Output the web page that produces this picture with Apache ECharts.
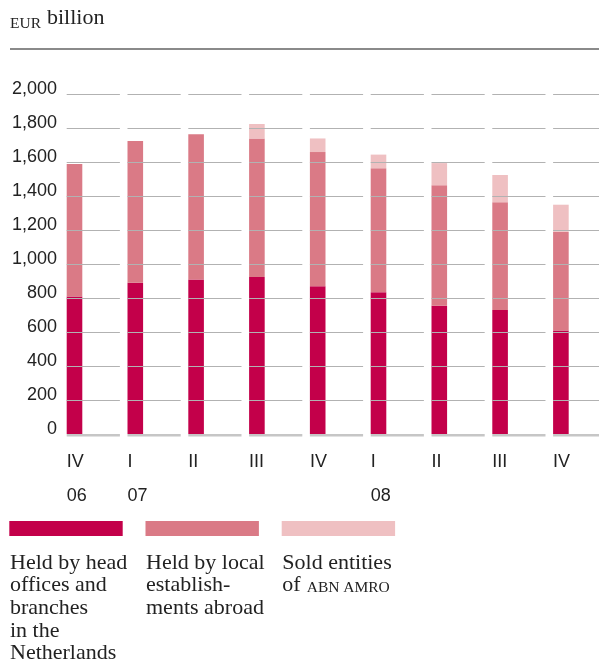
<!DOCTYPE html>
<html>
<head>
<meta charset="utf-8">
<script src="https://cdn.jsdelivr.net/npm/echarts@6/dist/echarts.min.js"></script>
<style>
  html, body { margin: 0; padding: 0; background: #fff; }
  #chart { width: 599px; height: 662px; }
</style>
</head>
<body>
<div id="chart"></div>
<script>
// Quarters along the x axis, with the year shown under the first quarter of each year
const quarters = ['IV', 'I', 'II', 'III', 'IV', 'I', 'II', 'III', 'IV'];
const years = ['06', '07', '', '', '', '08', '', '', ''];

// EUR billion
const headOffices = [810, 890, 910, 925, 870, 835, 755, 730, 610];
const localAbroad = [780, 835, 855, 815, 790, 730, 710, 635, 580];
const soldEntities = [0, 0, 0, 85, 80, 80, 130, 160, 160];

// Value axis ticks
const yTicks = [0, 200, 400, 600, 800, 1000, 1200, 1400, 1600, 1800, 2000];

const COLORS = { head: '#c3004a', local: '#da7a86', sold: '#efc0c2' };
const SERIF = '"Liberation Serif", "DejaVu Serif", serif';
const SANS = '"Liberation Sans", Arial, sans-serif';
const BAR_W = 15.6;

// Each quarter occupies one unit on the x axis, [i, i + 1]; the last slot runs off the right edge
const X_MAX = 8.755;

// Build [slot, bottom, top] rows for each stacked segment
function stackRows(lower, values) {
  return values.map((v, i) => [i, lower[i], lower[i] + v]);
}
const zeros = quarters.map(() => 0);
const afterHead = headOffices.slice();
const afterLocal = headOffices.map((v, i) => v + localAbroad[i]);

// Bars sit at the left edge of each quarter's slot
function segmentRenderer(color) {
  return function (params, api) {
    const i = api.value(0), lo = api.value(1), hi = api.value(2);
    if (!(hi > lo)) return null;
    const p0 = api.coord([i, lo]);
    const p1 = api.coord([i, hi]);
    return {
      type: 'rect',
      shape: { x: p0[0], y: p1[1], width: BAR_W, height: p0[1] - p1[1] },
      style: { fill: color }
    };
  };
}

// Short gridline segments per quarter, drawn over the bars
function gridRenderer(params, api) {
  const i = api.value(0);
  const unit = api.size([1, 0])[0];
  const x0 = api.coord([i, 0])[0];
  const len = unit * 0.875;
  const children = yTicks.map(t => {
    const y = api.coord([i, t])[1];
    if (t === 0) {
      return {
        type: 'line',
        shape: { x1: x0, y1: y + 1.3, x2: x0 + len, y2: y + 1.3 },
        style: { stroke: '#c6c6c6', lineWidth: 2.6 }
      };
    }
    const yy = Math.round(y) + 0.5;
    return {
      type: 'line',
      shape: { x1: x0, y1: yy, x2: x0 + len, y2: yy },
      style: { stroke: '#b2b2b2', lineWidth: 1 }
    };
  });
  return { type: 'group', children };
}

const chart = echarts.init(document.getElementById('chart'), null, { renderer: 'canvas' });

chart.setOption({
  animation: false,
  grid: { left: 66.7, top: 94.3, right: 0, height: 339.7 },
  xAxis: {
    type: 'value',
    min: 0,
    max: X_MAX,
    interval: 1,
    axisLine: { show: false },
    axisTick: { show: false },
    splitLine: { show: false },
    axisLabel: {
      margin: 10.7,
      align: 'left',
      showMaxLabel: false,
      formatter: v => {
        const q = quarters[v];
        if (q === undefined) return '';
        return '{q|' + q + '}\n{y|' + (years[v] || ' ') + '}';
      },
      rich: {
        q: { fontFamily: SANS, fontSize: 18, color: '#222', lineHeight: 34 },
        y: { fontFamily: SANS, fontSize: 18, color: '#222', lineHeight: 34 }
      }
    }
  },
  yAxis: {
    type: 'value',
    min: yTicks[0],
    max: yTicks[yTicks.length - 1],
    interval: 200,
    axisLine: { show: false },
    axisTick: { show: false },
    splitLine: { show: false },
    axisLabel: {
      margin: 9.7,
      fontFamily: SANS,
      fontSize: 18,
      color: '#222',
      verticalAlign: 'bottom',
      lineHeight: 10,
      formatter: v => v.toLocaleString('en-US')
    }
  },
  series: [
    {
      type: 'custom', name: 'Held by head offices and branches in the Netherlands',
      renderItem: segmentRenderer(COLORS.head),
      data: stackRows(zeros, headOffices),
      encode: { x: 0, y: [1, 2] }, z: 2
    },
    {
      type: 'custom', name: 'Held by local establishments abroad',
      renderItem: segmentRenderer(COLORS.local),
      data: stackRows(afterHead, localAbroad),
      encode: { x: 0, y: [1, 2] }, z: 2
    },
    {
      type: 'custom', name: 'Sold entities of ABN AMRO',
      renderItem: segmentRenderer(COLORS.sold),
      data: stackRows(afterLocal, soldEntities),
      encode: { x: 0, y: [1, 2] }, z: 2
    },
    {
      type: 'custom', name: 'gridlines',
      renderItem: gridRenderer,
      clip: false,
      data: quarters.map((q, i) => [i]),
      encode: { x: 0 }, z: 5, silent: true
    }
  ],
  graphic: [
    // Unit heading
    { type: 'text', left: 10, top: 15.5, style: { text: 'EUR', font: '15.5px ' + SERIF, fill: '#222' } },
    { type: 'text', left: 47, top: 7, style: { text: 'billion', font: '22px ' + SERIF, fill: '#222' } },
    { type: 'line', shape: { x1: 10, y1: 49, x2: 599, y2: 49 }, style: { stroke: '#8a8a8a', lineWidth: 2 } },

    // Legend swatches
    { type: 'rect', shape: { x: 9.3, y: 521, width: 113.4, height: 15 }, style: { fill: COLORS.head } },
    { type: 'rect', shape: { x: 145.5, y: 521, width: 113.4, height: 15 }, style: { fill: COLORS.local } },
    { type: 'rect', shape: { x: 281.7, y: 521, width: 113.4, height: 15 }, style: { fill: COLORS.sold } },

    // Legend texts
    { type: 'text', left: 10, top: 551.4,
      style: { text: 'Held by head\noffices and\nbranches\nin the\nNetherlands', font: '22px ' + SERIF, lineHeight: 22.7, fill: '#222' } },
    { type: 'text', left: 146, top: 551.4,
      style: { text: 'Held by local\nestablish-\nments abroad', font: '22px ' + SERIF, lineHeight: 22.7, fill: '#222' } },
    { type: 'text', left: 282.3, top: 551.4,
      style: { text: 'Sold entities\nof', font: '22px ' + SERIF, lineHeight: 22.7, fill: '#222' } },
    { type: 'text', left: 306.7, top: 580,
      style: { text: 'ABN AMRO', font: '15.5px ' + SERIF, fill: '#222' } }
  ]
});
</script>
</body>
</html>
